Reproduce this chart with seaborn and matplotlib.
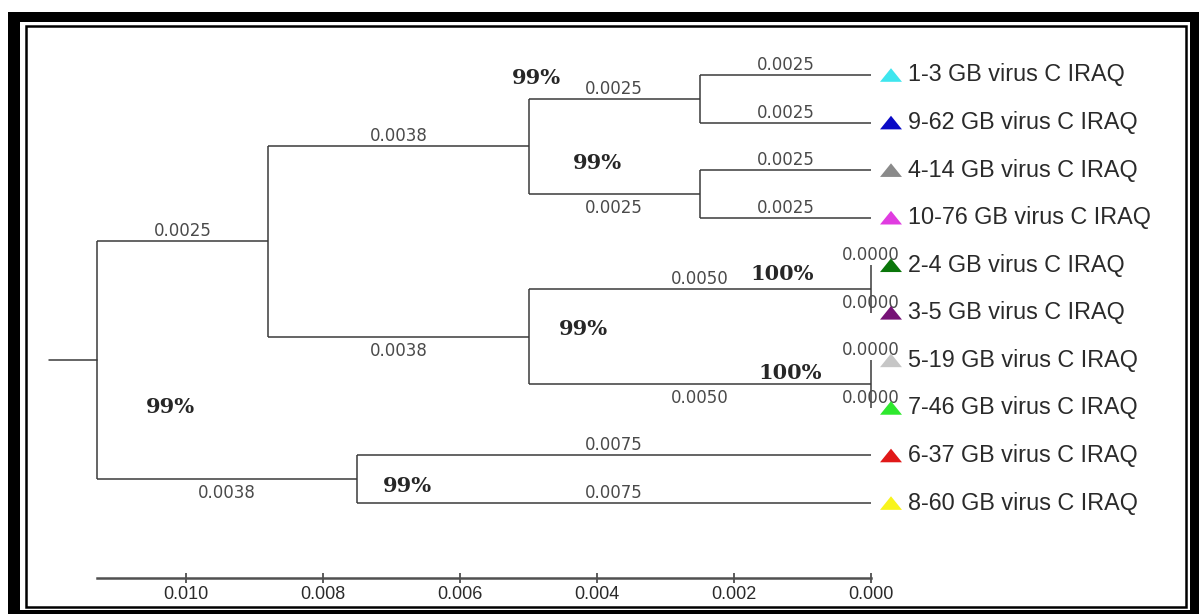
import matplotlib
matplotlib.use("Agg")
import matplotlib.pyplot as plt
import seaborn as sns
import pandas as pd
from matplotlib.patches import Rectangle
from matplotlib.path import Path
from matplotlib.ticker import FormatStrFormatter

# ---------------- data ----------------
tip_names = ["1-3 GB virus C IRAQ", "9-62 GB virus C IRAQ", "4-14 GB virus C IRAQ",
             "10-76 GB virus C IRAQ", "2-4 GB virus C IRAQ", "3-5 GB virus C IRAQ",
             "5-19 GB virus C IRAQ", "7-46 GB virus C IRAQ", "6-37 GB virus C IRAQ",
             "8-60 GB virus C IRAQ"]
tip_colors = ["#3ee6ee", "#0a0ac6", "#8a8a8a", "#e03ce0", "#0a760a", "#761276",
              "#c6c6c6", "#2ee82e", "#e01818", "#f8f41c"]

internal_nodes = ["root", "A", "B", "A1", "A2", "A1a", "A1b", "A2a", "A2b"]
internal_parents = [None, "root", "root", "A", "A", "A1", "A1", "A2", "A2"]
internal_lengths = [0.0, 0.0025, 0.0038, 0.0038, 0.0038, 0.0025, 0.0025, 0.0050, 0.0050]

tip_parents = ["A1a", "A1a", "A1b", "A1b", "A2a", "A2a", "A2b", "A2b", "B", "B"]
tip_lengths = [0.0025, 0.0025, 0.0025, 0.0025, 0.0, 0.0, 0.0, 0.0, 0.0075, 0.0075]

bootstrap_nodes = ["A1a", "A1b", "A2", "A2a", "A2b", "root", "B"]
bootstrap_values = [99, 99, 99, 100, 100, 99, 99]

scale_ticks = [0.010, 0.008, 0.006, 0.004, 0.002, 0.000]

# ---------------- layout / style ----------------
W, H = 1199, 614
px_per_unit = 68500.0      # pixels per substitution unit
tip0_px_x = 871            # pixel x of the tips
tip0_px_y = 75             # pixel y of first tip
px_per_tip = 47.56
axis_px_y = 578
line_col = "#3a3a3a"
label_side = {"A": "above", "B": "below", "A1": "above", "A2": "below",
              "A1a": "above", "A1b": "below", "A2a": "above", "A2b": "below"}
boot_offsets = {"A1a": (-163, 21), "A1b": (-102, 31), "A2": (55, 8), "A2a": (-89, 15),
                "A2b": (-81, 11), "root": (73, -47), "B": (50, -7)}
root_stub = 0.0007

# ---------------- tree geometry ----------------
names = internal_nodes + tip_names
parents = dict(zip(names, internal_parents + tip_parents))
lengths = dict(zip(names, internal_lengths + tip_lengths))

cum = {}
def depth(n):
    if n in cum:
        return cum[n]
    p = parents[n]
    cum[n] = 0.0 if p is None else depth(p) + lengths[n]
    return cum[n]
for n in names:
    depth(n)
root_depth = max(cum[t] for t in tip_names)
xpos = {n: root_depth - cum[n] for n in names}

children = {n: [c for c in names if parents[c] == n] for n in names}
ypos = {t: float(i) for i, t in enumerate(tip_names)}
def gety(n):
    if n in ypos:
        return ypos[n]
    ys = [gety(c) for c in children[n]]
    ypos[n] = (min(ys) + max(ys)) / 2
    return ypos[n]
for n in names:
    gety(n)

# ---------------- figure ----------------
sns.set_theme(style="white")
fig = plt.figure(figsize=(W / 100, H / 100), dpi=100)
fig.patch.set_facecolor("white")
ax = fig.add_axes([0, (H - axis_px_y) / H, 1, axis_px_y / H])
ax.patch.set_visible(False)
ax.set_xlim(tip0_px_x / px_per_unit, (tip0_px_x - W) / px_per_unit)
ax.set_ylim((axis_px_y - tip0_px_y) / px_per_tip, -tip0_px_y / px_per_tip)

lw = 1.1
for n in names:
    p = parents[n]
    if p is not None:
        ax.plot([xpos[p], xpos[n]], [ypos[n], ypos[n]], color=line_col, lw=lw,
                solid_capstyle="butt", clip_on=False)
    if children[n]:
        ys = [ypos[c] for c in children[n]]
        ax.plot([xpos[n], xpos[n]], [min(ys), max(ys)], color=line_col, lw=lw,
                solid_capstyle="butt", clip_on=False)
ax.plot([xpos["root"] + root_stub, xpos["root"]], [ypos["root"], ypos["root"]],
        color=line_col, lw=lw, clip_on=False)

# branch length labels
for n in names:
    p = parents[n]
    if p is None:
        continue
    side = label_side.get(n, "above")
    dy = 10 if side == "above" else -14
    ax.annotate(f"{lengths[n]:.4f}", xy=((xpos[p] + xpos[n]) / 2, ypos[n]),
                xytext=(0, dy), textcoords="offset pixels", ha="center", va="center",
                fontsize=12, color="#4a4a4a", family="DejaVu Sans")

# bootstrap labels
for n, v in zip(bootstrap_nodes, bootstrap_values):
    dx, dy = boot_offsets[n]
    ax.annotate(f"{v}%", xy=(xpos[n], ypos[n]), xytext=(dx, dy),
                textcoords="offset pixels", ha="center", va="center",
                fontsize=15, fontweight="bold", color="#262626", family="DejaVu Serif")

# tip markers
tri = Path([(-1, -0.62), (1, -0.62), (0, 0.62), (-1, -0.62)],
           [Path.MOVETO, Path.LINETO, Path.LINETO, Path.CLOSEPOLY])
df = pd.DataFrame({"name": tip_names,
                   "x": [xpos[t] - 20 / px_per_unit for t in tip_names],
                   "y": [ypos[t] for t in tip_names]})
sns.scatterplot(data=df, x="x", y="y", hue="name", palette=dict(zip(tip_names, tip_colors)),
                marker=tri, s=250, linewidth=0, legend=False, ax=ax, clip_on=False, zorder=3)

for t in tip_names:
    ax.annotate(t, xy=(xpos[t], ypos[t]), xytext=(37, 0), textcoords="offset pixels",
                ha="left", va="center", fontsize=16.8, color="#2a2a2a",
                family="Liberation Sans")

# scale axis
ax.set_xlabel("")
ax.set_ylabel("")
ax.set_yticks([])
ax.set_xticks(scale_ticks)
ax.xaxis.set_major_formatter(FormatStrFormatter("%.3f"))
for s in ["top", "left", "right"]:
    ax.spines[s].set_visible(False)
ax.spines["bottom"].set_bounds(0, root_depth)
ax.spines["bottom"].set_color("#505050")
ax.spines["bottom"].set_linewidth(1.8)
ax.tick_params(axis="x", bottom=True, direction="inout", length=7.5, width=1.1,
               color="#303030", labelsize=13, pad=2, labelcolor="#2a2a2a")
for lab in ax.get_xticklabels():
    lab.set_family("Liberation Sans")

# frame
def rect_px(x0, y0, x1, y1, **kw):
    return Rectangle((x0 / W, 1 - y1 / H), (x1 - x0) / W, (y1 - y0) / H,
                     transform=fig.transFigure, **kw)
for (x0, y0, x1, y1) in [(8, 12, 20, 614), (8, 12, 1199, 22), (1190, 12, 1199, 614), (8, 610, 1199, 614)]:
    fig.patches.append(rect_px(x0, y0, x1, y1, facecolor="black", edgecolor="none", zorder=5))
fig.patches.append(rect_px(26, 26, 1186, 607, facecolor="none", edgecolor="black", lw=1.8, zorder=5))

fig.savefig("out.png", dpi=100)
